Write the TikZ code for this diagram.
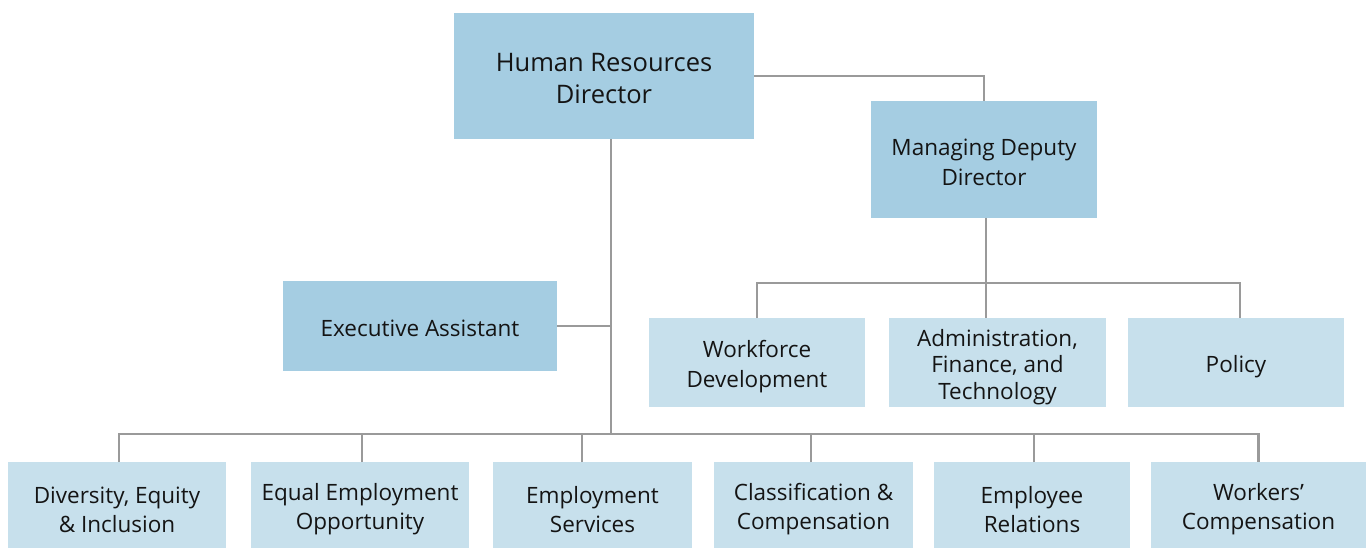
\documentclass[tikz,border=0pt]{standalone}
\usepackage{fontspec}
\setmainfont{Open Sans}
\definecolor{darkbox}{HTML}{A5CDE2}
\definecolor{lightbox}{HTML}{C7E0EC}
\definecolor{linegray}{HTML}{9A9A9A}
\begin{document}
\begin{tikzpicture}[x=1pt,y=-1pt,
  box/.style={inner sep=0pt, outer sep=0pt},
  dbox/.style={box, fill=darkbox},
  lbox/.style={box, fill=lightbox},
  txt/.style={inner sep=0pt, align=center, text=black!92, font=\fontsize{22.5}{#1}\selectfont},
  conn/.style={draw=linegray, line width=2.3pt}]
\useasboundingbox (0,0) rectangle (1366,548);
% top level
\node[dbox, minimum width=300pt, minimum height=126pt] (hr) at (604,76) {};
\node[txt=32, font=\fontsize{25.5}{32}\selectfont, yshift=-3pt] (hrt) at (hr) {Human Resources\\Director};
\node[dbox, minimum width=226pt, minimum height=117pt] (mdd) at (984,159.5) {};
\node[txt=30, yshift=-3pt] (mddt) at (mdd) {Managing Deputy\\Director};
\node[dbox, minimum width=274pt, minimum height=90pt] (ea) at (420,326) {};
\node[txt=29, yshift=-2pt] (eat) at (ea) {Executive Assistant};
% deputy children
\tikzset{mrow/.style={lbox, minimum height=89pt}}
\node[mrow, minimum width=216pt] (wd) at (757,362.5) {};
\node[txt=30, yshift=-4.5pt] (wdt) at (wd) {Workforce\\Development};
\node[mrow, minimum width=217pt] (aft) at (997.5,362.5) {};
\node[txt=26.5, yshift=-4.5pt] (aftt) at (aft) {Administration,\\Finance, and\\Technology};
\node[mrow, minimum width=216pt] (pol) at (1236,362.5) {};
\node[txt=30, yshift=-4.5pt] (polt) at (pol) {Policy};
% bottom row
\tikzset{brow/.style={lbox, minimum height=86pt}, btxt/.style={txt=29, yshift=-4.5pt}}
\node[brow, minimum width=218pt] (dei) at (117,505) {};
\node[btxt] (deit) at (dei) {Diversity, Equity\\\& Inclusion};
\node[brow, minimum width=218pt] (eeo) at (360,505) {};
\node[btxt] (eeot) at (eeo) {Equal Employment\\Opportunity};
\node[brow, minimum width=199pt] (es) at (592.5,505) {};
\node[btxt] (est) at (es) {Employment\\Services};
\node[brow, minimum width=199pt] (cc) at (813.5,505) {};
\node[btxt] (cct) at (cc) {Classification \&\\Compensation};
\node[brow, minimum width=196pt] (er) at (1032,505) {};
\node[btxt] (ert) at (er) {Employee\\Relations};
\node[brow, minimum width=215pt] (wc) at (1258.5,505) {};
\node[btxt] (wct) at (wc) {Workers’\\Compensation};
% bus coordinates
\coordinate (trunk) at (611,434);
\coordinate (bus1) at (986,283);
% connectors
\draw[conn] (hr.east) -| (mdd.north);
\draw[conn] (hr.south -| trunk) -- (trunk);
\draw[conn] (ea.east) -- (ea.east -| trunk);
\draw[conn] ([xshift=2pt]mdd.south) -- ([xshift=-11.5pt]aft.north);
\draw[conn] (wd.north) -- (wd.north |- bus1) -- ([xshift=4pt]pol.north |- bus1) -- ([xshift=4pt]pol.north);
\draw[conn] ([xshift=2pt]dei.north) -- ([xshift=2pt]dei.north |- trunk) -- (wc.north |- trunk) -- (wc.north);
\draw[conn] ([xshift=2pt]eeo.north) -- ([xshift=2pt]eeo.north |- trunk);
\draw[conn] ([xshift=-10.5pt]es.north) -- ([xshift=-10.5pt]es.north |- trunk);
\draw[conn] ([xshift=-2.5pt]cc.north) -- ([xshift=-2.5pt]cc.north |- trunk);
\draw[conn] ([xshift=2pt]er.north) -- ([xshift=2pt]er.north |- trunk);
\end{tikzpicture}
\end{document}
